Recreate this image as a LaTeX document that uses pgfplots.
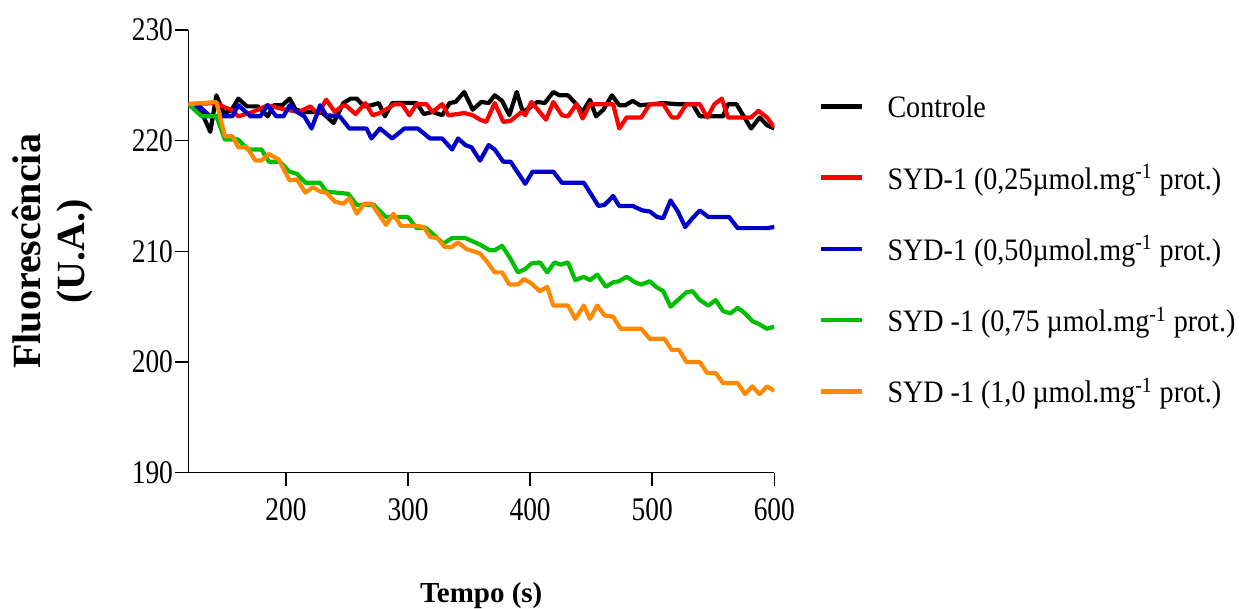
\documentclass[border=0pt]{standalone}
\usepackage{fontspec}
\setmainfont{Liberation Serif}[FakeStretch=0.9]
\newfontfamily\tickfont{Liberation Serif}[FakeStretch=0.83]
\newfontfamily\plainfont{Liberation Serif}
\usepackage{pgfplots}
\pgfplotsset{compat=1.18}
\definecolor{cblue}{RGB}{0,0,200}
\definecolor{cgreen}{RGB}{0,190,0}
\definecolor{corange}{RGB}{255,136,0}
\begin{document}
\begin{tikzpicture}
\useasboundingbox (-94.15pt,-68.15pt) rectangle (525.85pt,236.35pt);
\begin{axis}[
  at={(0,0)}, anchor=south west,
  scale only axis, width=293pt, height=221.35pt,
  xmin=120, xmax=600, ymin=190, ymax=230,
  axis lines=left,
  axis line style={line width=0.75pt, -},
  xtick={200,300,400,500,600}, ytick={190,200,210,220,230},
  tick align=outside, major tick length=6.5pt,
  tick style={line width=0.75pt, black},
  /pgf/number format/assume math mode=true,
  ticklabel style={font=\tickfont\fontsize{16.5}{16.5}\selectfont},
  xticklabel style={inner sep=2pt, yshift=-4pt},
  yticklabel style={inner sep=1pt},
  xlabel={Tempo (s)},
  xlabel style={at={(axis description cs:0.5,0)}, anchor=center, yshift=-61.5pt, font=\plainfont\fontsize{14.5}{14.5}\selectfont\bfseries},
  ylabel={Fluorescência\\(U.A.)},
  ylabel style={at={(axis description cs:0,0.5)}, anchor=center, rotate=0, yshift=68pt, align=center, font=\plainfont\fontsize{20}{22}\selectfont\bfseries},
  legend style={at={(axis description cs:1,1)}, anchor=north west, xshift=22.3pt, yshift=-32.95pt,
    draw=none, fill=none, inner sep=0pt, outer sep=0pt, row sep=20.6pt,
    font=\fontsize{15.6}{15.6}\selectfont,
    nodes={inner sep=0pt, text height=11pt, text depth=4pt},
    /tikz/every odd column/.append style={column sep=11.5pt}},
  legend cell align=left,
  legend image code/.code={\draw[#1, line width=2.3pt] (0pt,2.2pt) -- (20.5pt,2.2pt);},
  every axis plot/.append style={line width=2.1pt, line join=round, no markers},
]
\addplot[black] coordinates {(120,223.3)(130,222.8)(138,220.8)(143,224.1)(149,222.5)(155,222.7)(161,223.8)(168,223.1)(177,223.1)(185,222.2)(190,223.2)(197,223.2)(203,223.8)(208,222.8)(215,222.6)(222,222.6)(230,222.5)(239,221.6)(247,223.4)(253,223.8)(258,223.8)(264,223.1)(270,223.2)(276,223.4)(281,222.2)(287,223.4)(300,223.4)(307,223.4)(313,222.4)(320,222.6)(328,222.3)(334,223.4)(339,223.5)(346,224.4)(353,222.8)(360,223.5)(366,223.4)(371,224.1)(377,223.6)(383,222.3)(389,224.4)(394,222.6)(400,223.0)(406,223.5)(412,223.4)(419,224.4)(424,224.1)(431,224.1)(437,223.4)(443,222.6)(449,223.7)(454,222.2)(460,222.8)(467,224.1)(473,223.2)(478,223.2)(484,223.6)(490,223.2)(500,223.3)(509,223.4)(520,223.3)(533,223.3)(539,222.2)(558,222.2)(562,223.3)(569,223.3)(581,221.1)(588,222.1)(594,221.4)(600,221.1)};
\addlegendentry{Controle}
\addplot[red] coordinates {(120,223.3)(143,223.4)(150,223.0)(155,222.8)(161,222.2)(173,222.6)(185,223.2)(192,223.0)(200,222.8)(211,222.6)(220,223.1)(226,222.4)(233,223.7)(240,222.6)(247,223.2)(250,223.1)(257,222.4)(265,223.4)(271,222.3)(277,222.5)(289,223.3)(295,223.3)(301,222.3)(307,223.3)(315,223.3)(320,222.6)(328,223.3)(333,222.3)(340,222.4)(346,222.5)(353,222.3)(359,221.9)(364,221.7)(371,223.4)(378,221.7)(384,221.8)(393,222.6)(396,222.3)(401,223.5)(413,221.9)(419,223.5)(426,222.3)(431,222.2)(438,223.3)(443,222.0)(449,223.3)(468,223.3)(473,221.1)(479,222.1)(491,222.1)(498,223.3)(509,223.3)(516,222.1)(521,222.1)(528,223.3)(539,223.3)(545,222.1)(551,223.3)(557,223.8)(562,222.1)(581,222.1)(587,222.7)(594,222.1)(600,221.2)};
\addlegendentry{SYD-1 (0,25µmol.mg\textsuperscript{-1} prot.)}
\addplot[cblue] coordinates {(120,223.3)(130,223.0)(138,222.2)(156,222.2)(161,223.2)(171,222.2)(179,222.2)(185,223.2)(192,222.2)(198,222.2)(203,223.2)(209,222.6)(215,222.2)(221,221.1)(228,223.2)(233,222.3)(244,222.2)(252,221.1)(266,221.1)(270,220.2)(277,221.1)(287,220.2)(297,221.1)(308,221.1)(318,220.2)(328,220.2)(336,219.2)(341,220.2)(347,219.6)(352,219.4)(359,218.2)(366,219.6)(371,219.2)(378,218.1)(384,218.1)(396,216.1)(402,217.2)(419,217.2)(426,216.2)(444,216.2)(456,214.1)(461,214.2)(468,215.0)(473,214.1)(484,214.1)(492,213.7)(498,213.6)(504,213.1)(509,213.0)(515,214.6)(521,213.6)(527,212.2)(533,213.0)(539,213.7)(546,213.1)(563,213.1)(570,212.1)(594,212.1)(600,212.2)};
\addlegendentry{SYD-1 (0,50µmol.mg\textsuperscript{-1} prot.)}
\addplot[cgreen] coordinates {(120,223.3)(131,222.2)(143,222.2)(150,220.1)(161,220.1)(169,219.2)(180,219.2)(186,218.1)(195,218.1)(203,217.2)(209,217.0)(216,216.2)(228,216.2)(233,215.4)(251,215.2)(258,214.2)(272,214.2)(282,213.1)(300,213.1)(307,212.1)(315,212.1)(321,211.5)(329,210.7)(336,211.2)(347,211.2)(351,211.0)(359,210.6)(367,210.1)(371,210.1)(377,210.5)(383,209.5)(390,208.1)(396,208.4)(401,208.9)(408,209.0)(414,208.1)(420,209.0)(425,208.8)(431,209.0)(437,207.4)(444,207.7)(449,207.4)(455,207.9)(462,206.8)(468,207.2)(473,207.3)(479,207.7)(486,207.2)(491,207.0)(498,207.3)(503,206.8)(509,206.4)(515,205.0)(521,205.6)(528,206.3)(533,206.4)(539,205.6)(546,205.1)(552,205.6)(558,204.6)(564,204.4)(570,204.9)(576,204.4)(582,203.7)(588,203.4)(594,203.0)(600,203.2)};
\addlegendentry{SYD -1 (0,75 µmol.mg\textsuperscript{-1} prot.)}
\addplot[corange] coordinates {(120,223.3)(143,223.5)(150,220.4)(156,220.4)(161,219.4)(168,219.4)(175,218.2)(180,218.2)(186,218.8)(194,218.3)(203,216.4)(209,216.5)(216,215.3)(222,215.8)(228,215.4)(233,215.3)(240,214.5)(247,214.3)(252,214.8)(258,213.4)(264,214.3)(270,214.3)(282,212.4)(288,213.4)(294,212.3)(307,212.3)(313,212.2)(318,211.3)(324,211.2)(330,210.4)(336,210.4)(341,210.8)(348,210.2)(351,210.1)(359,209.8)(365,209.0)(371,208.1)(377,208.1)(383,207.0)(390,207.0)(395,207.5)(401,207.1)(408,206.4)(414,206.8)(419,205.1)(431,205.1)(437,203.9)(444,205.1)(449,203.9)(455,205.1)(461,204.2)(468,204.1)(474,203.0)(491,203.0)(498,202.1)(510,202.1)(516,201.1)(522,201.1)(528,200.0)(539,200.0)(545,199.0)(552,199.0)(558,198.1)(570,198.1)(576,197.1)(582,197.8)(588,197.1)(594,197.8)(600,197.4)};
\addlegendentry{SYD -1 (1,0 µmol.mg\textsuperscript{-1} prot.)}
\end{axis}
\end{tikzpicture}
\end{document}
